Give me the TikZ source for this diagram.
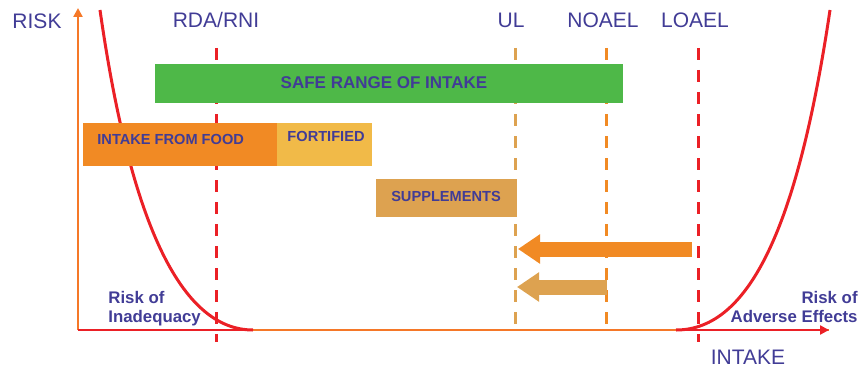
\documentclass[tikz,border=0pt]{standalone}
\usepackage{fontspec}
\setmainfont{Liberation Sans}
\usetikzlibrary{arrows.meta}
\definecolor{txtblue}{RGB}{65,60,150}
\definecolor{riskred}{RGB}{235,32,38}
\definecolor{axisorange}{RGB}{245,120,40}
\definecolor{safegreen}{RGB}{78,184,72}
\definecolor{foodorange}{RGB}{241,138,36}
\definecolor{fortyellow}{RGB}{241,186,72}
\definecolor{supptan}{RGB}{221,162,80}

\begin{document}
\begin{tikzpicture}[x=0.5pt,y=-0.5pt,
    lbl/.style={text=txtblue,inner sep=0pt,font=\fontsize{10.5}{12}\selectfont},
    blbl/.style={text=txtblue,inner sep=0pt,font=\bfseries\fontsize{7.3}{8.5}\selectfont},
    risklbl/.style={text=txtblue,inner sep=0pt,font=\bfseries\fontsize{8.4}{9.5}\selectfont},
    limit/.style={line width=1.5pt,dash pattern=on 6pt off 5pt},
    blockarrow/.style={line width=7.5pt,-{Triangle[length=11pt,width=14pt]}}]
    \useasboundingbox (0,0) rectangle (860,369);
    % axes
    \coordinate (origin) at (78,330);
    \coordinate (ytop) at (78,8);
    \coordinate (xend) at (829,330);
    \draw[axisorange,line width=1.25pt,-{Triangle[length=4.5pt,width=4.5pt]}] (origin) -- (ytop);
    \draw[axisorange,line width=1.25pt] (origin) -- (xend);
    \draw[riskred,line width=1.25pt] (origin) -- (253,330);
    \draw[riskred,line width=1.25pt,-{Triangle[length=4.5pt,width=4.5pt]}] (676,330) -- (xend);
    % risk curves
    \draw[riskred,line width=1.5pt] (100,10) .. controls (130,220) and (180,330) .. (253,330);
    \draw[riskred,line width=1.5pt] (676,330) .. controls (750,330) and (798,225) .. (830,10);
    % limit lines
    \foreach \x/\c/\yb in {216/riskred/342,515/supptan/330,606/foodorange/330,698/riskred/342}{
        \draw[limit,\c] (\x,48) -- (\x,\yb);
    }
    % bars
    \fill[safegreen] (155,64) rectangle (623,103);
    \fill[foodorange] (83,123) rectangle (277,166);
    \fill[fortyellow] (277,123) rectangle (372,166);
    \fill[supptan] (376,179) rectangle (517,217);
    \node[blbl,font=\bfseries\fontsize{8.5}{10}\selectfont] (safe) at (384,83) {SAFE RANGE OF INTAKE};
    \node[blbl,anchor=west] (food) at (97,139) {INTAKE FROM FOOD};
    \node[blbl] (fortified) at (326,136) {FORTIFIED};
    \node[blbl] (supplements) at (446,196) {SUPPLEMENTS};
    % arrows
    \coordinate (bigtail) at (692,249);
    \coordinate (bigtip) at (518,249);
    \coordinate (smalltail) at (607,287);
    \coordinate (smalltip) at (517,287);
    \draw[blockarrow,foodorange] (bigtail) -- (bigtip);
    \draw[blockarrow,supptan] (smalltail) -- (smalltip);
    % labels
    \node[lbl] (risk) at (37,21) {RISK};
    \node[lbl] (rda) at (216,20) {RDA/RNI};
    \node[lbl] (ul) at (511,20) {UL};
    \node[lbl] (noael) at (603,20) {NOAEL};
    \node[lbl] (loael) at (695,20) {LOAEL};
    \node[lbl] (intake) at (748,357) {INTAKE};
    \node[risklbl,align=left,anchor=north west] (inadequacy) at (108,291) {Risk of\\Inadequacy};
    \node[risklbl,align=right,anchor=north east] (adverse) at (858,291) {Risk of\\Adverse Effects};
\end{tikzpicture}
\end{document}
